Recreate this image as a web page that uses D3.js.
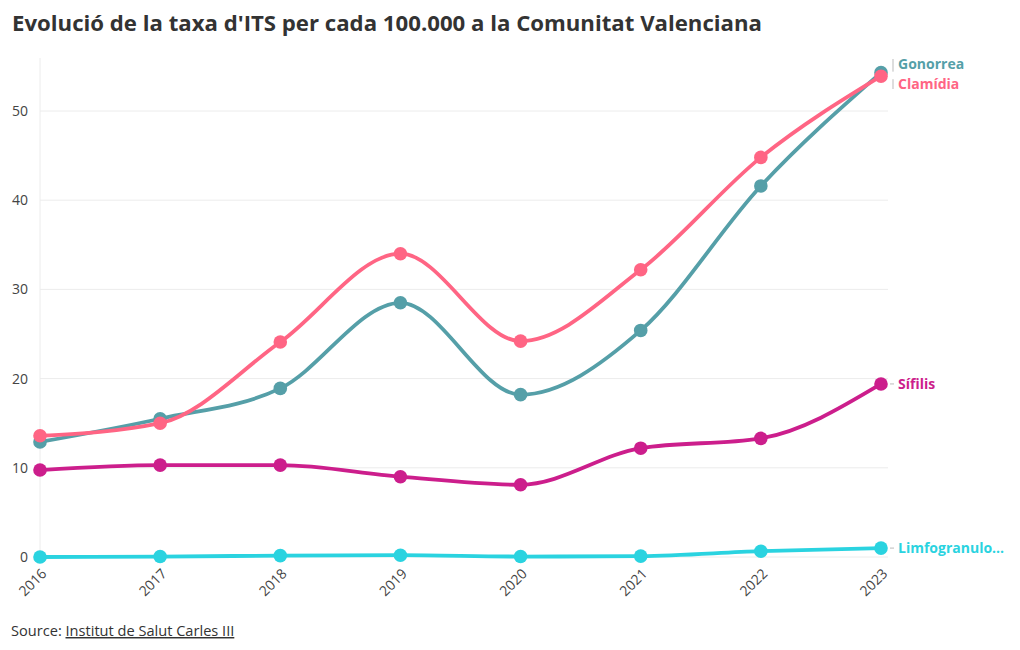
<!DOCTYPE html>
<html><head><meta charset="utf-8">
<script src="https://cdn.jsdelivr.net/npm/d3@7"></script>
<style>
body{margin:0;background:#fff;}
svg text{font-family:"Source Sans Pro","Open Sans",Lato,sans-serif;}
</style></head>
<body><svg id="c" width="1020" height="650"></svg>
<script>
const years = [2016,2017,2018,2019,2020,2021,2022,2023];
const seriesNames = ["Gonorrea","Clamídia","Sífilis","Limfogranuloma"];
const gonorrea = [12.9,15.5,18.9,28.5,18.2,25.4,41.6,54.3];
const clamidia = [13.6,15.0,24.1,34.0,24.2,32.2,44.8,53.9];
const sifilis = [9.75,10.3,10.3,9.0,8.1,12.2,13.3,19.4];
const limfo = [0.0,0.05,0.15,0.2,0.05,0.1,0.65,1.0];
const yTicks = [0,10,20,30,40,50];
const colors = ["#559fa8","#ff6584","#cc1e8c","#2ad3e0"];
const labels = ["Gonorrea","Clamídia","Sífilis","Limfogranulo..."];

const series = [gonorrea, clamidia, sifilis, limfo];
const svg = d3.select("#c");
const x = d3.scaleLinear().domain([2016,2023]).range([40,881]);
const y = d3.scaleLinear().domain([0,50]).range([557,111]);

svg.append("g").selectAll("line").data(yTicks).join("line")
  .attr("x1",40).attr("x2",888).attr("y1",d=>y(d)).attr("y2",d=>y(d))
  .attr("stroke","#ececec").attr("stroke-width",1);
svg.append("line").attr("x1",40).attr("x2",40).attr("y1",58).attr("y2",557)
  .attr("stroke","#ececec");

svg.append("g").selectAll("text").data(yTicks).join("text")
  .attr("x",28).attr("y",d=>y(d)).attr("dy","0.35em").attr("text-anchor","end")
  .attr("font-size",14).attr("fill","#444").text(d=>d);

svg.append("g").selectAll("text").data(years).join("text")
  .attr("transform",d=>`translate(${x(d)+4},${571}) rotate(-45)`)
  .attr("text-anchor","end").attr("dy","0.35em")
  .attr("font-size",14).attr("fill","#444").text(d=>d);

const line = d3.line().x((d,i)=>x(years[i])).y(d=>y(d)).curve(d3.curveMonotoneX);
[0,1,2,3].forEach(k=>{
  const g = svg.append("g");
  g.append("path").attr("d",line(series[k])).attr("fill","none")
    .attr("stroke",colors[k]).attr("stroke-width",3.8);
  g.selectAll("circle").data(series[k]).join("circle")
    .attr("cx",(d,i)=>x(years[i])).attr("cy",d=>y(d)).attr("r",6.8)
    .attr("fill",colors[k]);
});

const labelY = [64,84,null,null];
series.forEach((s,k)=>{
  const yv = y(s[s.length-1]);
  const ly = labelY[k] !== null ? labelY[k] : yv;
  if (labelY[k] !== null) {
    svg.append("path")
      .attr("d",`M893,${yv+(k===0?-1:3)} L893,${ly+(k===0?-5:5)}`)
      .attr("stroke","#bbb").attr("fill","none").attr("stroke-width",1);
  } else {
    svg.append("line").attr("x1",890).attr("x2",894).attr("y1",yv).attr("y2",yv)
      .attr("stroke","#bbb");
  }
  svg.append("text").attr("x",898).attr("y",ly).attr("dy","0.35em")
    .attr("font-size",14).attr("font-weight",700).attr("fill",colors[k]).text(labels[k]);
});

svg.append("text").attr("x",12).attr("y",31).attr("font-size",22.2)
  .attr("font-weight",700).attr("fill","#333")
  .text("Evolució de la taxa d'ITS per cada 100.000 a la Comunitat Valenciana");

const src = svg.append("text").attr("x",11).attr("y",636).attr("font-size",14.6).attr("fill","#333");
src.append("tspan").text("Source: ");
src.append("tspan").attr("text-decoration","underline").text("Institut de Salut Carles III");
</script></body></html>
